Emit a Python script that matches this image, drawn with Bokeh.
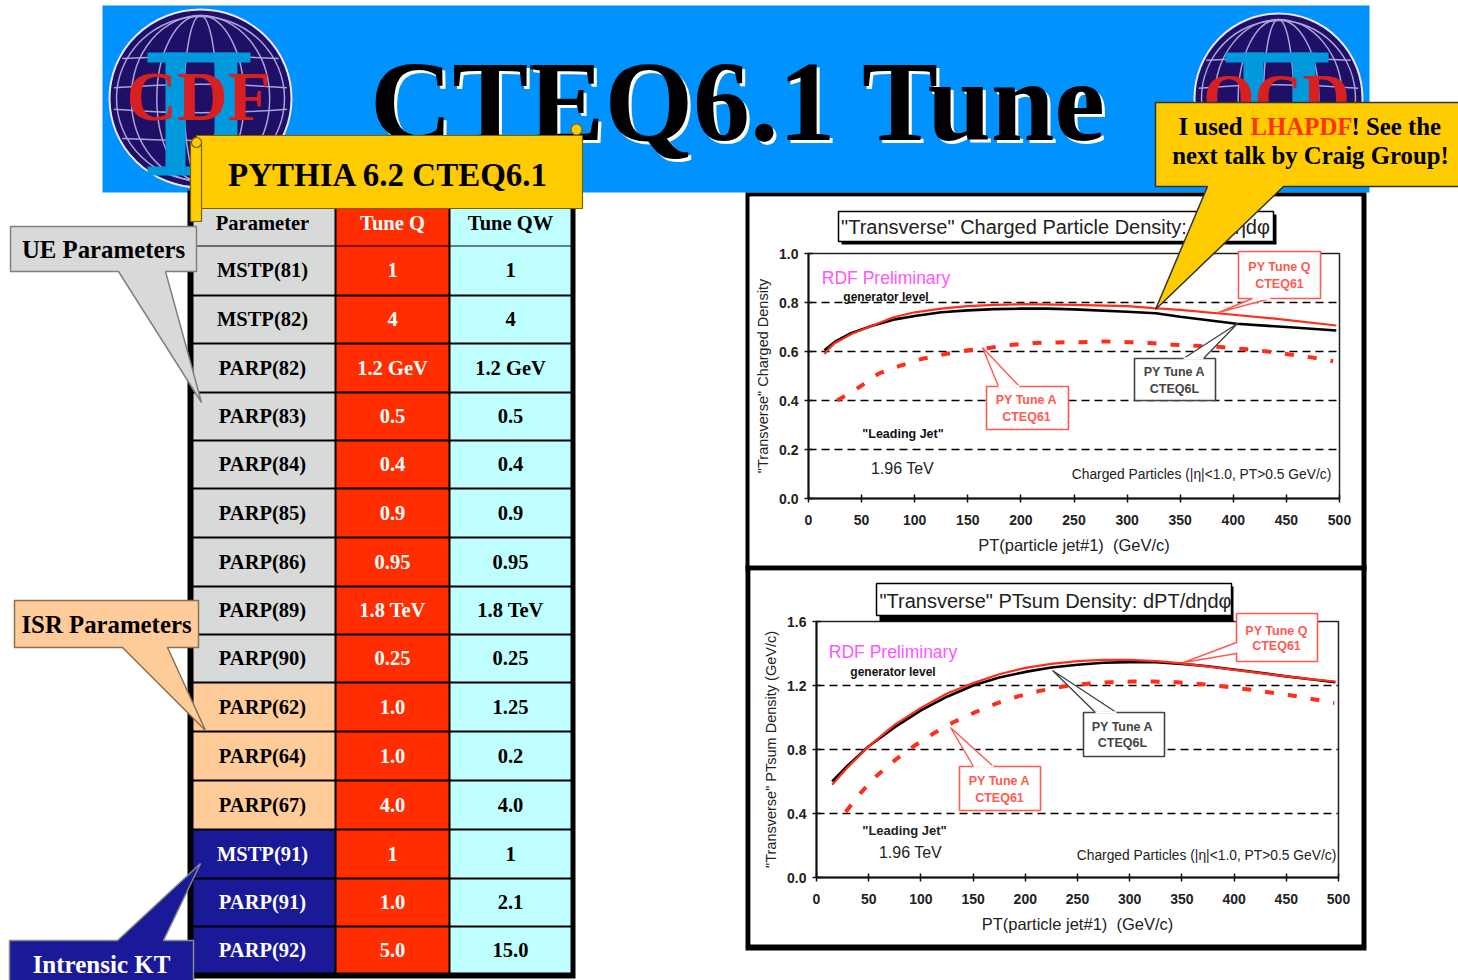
from bokeh.plotting import figure
from bokeh.layouts import column
from bokeh.models import Range1d, FixedTicker, NumeralTickFormatter, ColumnDataSource
from bokeh.core.properties import value
from bokeh.embed import file_html
from bokeh.resources import INLINE

# ---------- table data ----------
parameters = ["MSTP(81)", "MSTP(82)", "PARP(82)", "PARP(83)", "PARP(84)", "PARP(85)", "PARP(86)", "PARP(89)",
              "PARP(90)", "PARP(62)", "PARP(64)", "PARP(67)", "MSTP(91)", "PARP(91)", "PARP(92)"]
tune_q = ["1", "4", "1.2 GeV", "0.5", "0.4", "0.9", "0.95", "1.8 TeV", "0.25", "1.0", "1.0", "4.0", "1", "1.0", "5.0"]
tune_qw = ["1", "4", "1.2 GeV", "0.5", "0.4", "0.9", "0.95", "1.8 TeV", "0.25", "1.25", "0.2", "4.0", "1", "2.1", "15.0"]
row_groups = ["ue"] * 9 + ["isr"] * 3 + ["kt"] * 3
row_edges = [245, 295, 343, 392, 440, 488, 537, 586, 634, 682, 731, 780, 829, 878, 926, 973]

# ---------- upper chart: charged particle density ----------
c1_a6l_x = [15, 25, 40, 60, 80, 100, 125, 150, 175, 200, 225, 250, 300, 327, 350, 403, 450, 497]
c1_a6l_y = [0.605, 0.64, 0.675, 0.705, 0.73, 0.745, 0.76, 0.768, 0.773, 0.775, 0.775, 0.772, 0.762, 0.756, 0.742, 0.713, 0.70, 0.686]
c1_q_x = [15, 20, 25, 40, 60, 80, 100, 125, 150, 175, 200, 250, 300, 325, 350, 400, 437, 497]
c1_q_y = [0.59, 0.615, 0.635, 0.67, 0.705, 0.74, 0.76, 0.775, 0.785, 0.79, 0.793, 0.79, 0.785, 0.777, 0.77, 0.75, 0.735, 0.706]
c1_a61_x = [27, 48, 66, 85, 107, 129, 150, 171, 193, 214, 235, 256, 279, 302, 325, 343, 366, 388, 410, 432, 453, 475, 494]
c1_a61_y = [0.40, 0.455, 0.51, 0.54, 0.57, 0.59, 0.605, 0.615, 0.628, 0.635, 0.637, 0.638, 0.641, 0.638, 0.634, 0.628, 0.623, 0.618, 0.61, 0.60, 0.588, 0.575, 0.56]

# ---------- lower chart: PTsum density ----------
c2_a6l_x = [15, 30, 50, 75, 100, 125, 150, 175, 200, 225, 250, 275, 300, 325, 350, 375, 400, 425, 450, 475, 497]
c2_a6l_y = [0.60, 0.70, 0.82, 0.94, 1.045, 1.13, 1.20, 1.25, 1.285, 1.312, 1.33, 1.342, 1.346, 1.345, 1.335, 1.32, 1.30, 1.28, 1.257, 1.237, 1.22]
c2_q_x = [15, 30, 50, 75, 100, 125, 150, 175, 200, 225, 250, 275, 300, 325, 350, 375, 400, 425, 450, 475, 497]
c2_q_y = [0.58, 0.69, 0.82, 0.955, 1.06, 1.15, 1.215, 1.27, 1.31, 1.335, 1.352, 1.36, 1.36, 1.352, 1.338, 1.318, 1.298, 1.277, 1.257, 1.238, 1.225]
c2_a61_x = [28, 43, 58, 76, 93, 112, 131, 151, 172, 193, 213, 236, 258, 280, 302, 323, 345, 367, 390, 412, 433, 455, 477, 496]
c2_a61_y = [0.41, 0.534, 0.638, 0.738, 0.82, 0.90, 0.97, 1.03, 1.087, 1.132, 1.165, 1.194, 1.21, 1.22, 1.225, 1.225, 1.22, 1.21, 1.194, 1.177, 1.158, 1.138, 1.113, 1.09]

x_ticks = [0, 50, 100, 150, 200, 250, 300, 350, 400, 450, 500]
c1_y_ticks = [0.0, 0.2, 0.4, 0.6, 0.8, 1.0]
c2_y_ticks = [0.0, 0.4, 0.8, 1.2, 1.6]

SERIF = value("Liberation Serif")
SANS = value("Liberation Sans")
W, H = 1458, 980


def sheet(**kw):
    p = figure(width=W, height=H, x_range=Range1d(0, W), y_range=Range1d(H, 0), x_axis_location=None,
               y_axis_location=None, toolbar_location=None, output_backend="svg", min_border=0,
               frame_align=False, **kw)
    p.grid.visible = False
    p.outline_line_color = None
    return p


def label(p, x, y, s, size, color="black", font=SERIF, style="bold", align="center", baseline="middle"):
    p.text(x=[x], y=[y], text=[s], text_font=font, text_font_size=f"{size}px", text_font_style=style,
           text_color=color, text_align=align, text_baseline=baseline)


def logo(p, cx, cy, rx, ry, letters, size):
    p.ellipse(x=[cx], y=[cy], width=[2 * rx], height=[2 * ry], fill_color="#1f0f66", line_color="#e8e6f8", line_width=2)
    p.ellipse(x=[cx], y=[cy], width=[2 * rx - 14], height=[2 * ry - 14], fill_color=None, line_color="#a9a4d8", line_width=1.5)
    for f in (0.18, 0.48, 0.76):
        p.ellipse(x=[cx], y=[cy], width=[2 * rx * f], height=[2 * ry - 12], fill_color=None, line_color="#a9a4d8", line_width=1.5)
    for d, w, bow in ((-0.45, 0.86, -4), (-0.12, 0.95, -7), (0.12, 0.95, 7), (0.45, 0.86, 4)):
        p.quadratic(x0=[cx - rx * w], y0=[cy + ry * d], x1=[cx + rx * w], y1=[cy + ry * d], cx=[cx], cy=[cy + ry * d + bow],
                    line_color="#a9a4d8", line_width=1.5)
    blue = "#0099dd"
    p.quad(left=[cx - 53, cx - 53, cx - 35, cx + 14], right=[cx + 50, cx + 50, cx - 15, cx + 37],
           top=[cy - 46, cy + 68, cy - 46, cy - 46], bottom=[cy - 36, cy + 77, cy + 70, cy + 70],
           fill_color=blue, line_color=None)
    label(p, cx - 2, cy - 2, letters, size, "#d92020")


def poly(p, xs, ys, fill, edge, width=1.2):
    p.patch(x=xs, y=ys, fill_color=fill, line_color=edge, line_width=width)


def callout(p, box, tail, fill, edge, width=1.5):
    l, t, r, b = box
    (ax, tx, ty, bx) = tail
    p.patch(x=[l, r, r, bx, tx, ax, l] if ty > b else [l, ax, tx, bx, r, r, l],
            y=[t, t, b, b, ty, b, b] if ty > b else [t, t, ty, t, t, b, b],
            fill_color=fill, line_color=edge, line_width=width)


# ---------- background sheet ----------
bg = sheet(margin=(0, 0, 0, 0))
bg.quad(left=[102], right=[1369], top=[5], bottom=[192], fill_color="#0092ff", line_color=None)
logo(bg, 200, 98, 91, 89, "CDF", 70)
logo(bg, 1278, 98, 84, 85, "QCD", 66)
TX, TY = 738, 101
label(bg, TX + 3, TY + 3, "CTEQ6.1 Tune", 114, "white", baseline="alphabetic")
label(bg, TX, TY, "CTEQ6.1 Tune", 114, "black", baseline="alphabetic")

bg.quad(left=[187], right=[575], top=[190], bottom=[978], fill_color="black", line_color=None)
group_fill = {"ue": "#d8d9d9", "isr": "#ffcc99", "kt": "#1a1a99"}
bg.quad(left=[193], right=[334], top=[198], bottom=[245], fill_color="#d8d9d9", line_color=None)
bg.quad(left=[336], right=[448], top=[198], bottom=[245], fill_color="#ff2d00", line_color=None)
bg.quad(left=[450], right=[570], top=[198], bottom=[245], fill_color="#bfffff", line_color=None)
tops = [e + 1 for e in row_edges[:-1]]
bots = [e - 1 for e in row_edges[1:]]
n = len(parameters)
bg.quad(left=[193] * n, right=[334] * n, top=tops, bottom=bots, fill_color=[group_fill[g] for g in row_groups], line_color=None)
bg.quad(left=[336] * n, right=[448] * n, top=tops, bottom=bots, fill_color="#ff2d00", line_color=None)
bg.quad(left=[450] * n, right=[570] * n, top=tops, bottom=bots, fill_color="#bfffff", line_color=None)
mids = [(a + b) / 2 - 0.5 for a, b in zip(row_edges[:-1], row_edges[1:])]
table = ColumnDataSource(dict(mid=mids, p=parameters, q=tune_q, w=tune_qw,
                              pc=["white" if g == "kt" else "black" for g in row_groups]))
common = dict(text_font=SERIF, text_font_size="20.5px", text_font_style="bold", text_align="center", text_baseline="middle")
bg.text(x=262, y="mid", text="p", text_color="pc", source=table, **common)
bg.text(x=392, y="mid", text="q", text_color="white", source=table, **common)
bg.text(x=510, y="mid", text="w", text_color="black", source=table, **common)
label(bg, 262, 222, "Parameter", 20.5)
label(bg, 392, 222, "Tune Q", 20.5, "white")
label(bg, 510, 222, "Tune QW", 20.5)

# chart panels
bg.quad(left=[745, 745], right=[1366, 1366], top=[192, 565], bottom=[570, 950], fill_color="black", line_color=None)
bg.quad(left=[749, 750], right=[1361, 1361], top=[196, 570], bottom=[565, 944], fill_color="white", line_color=None)


# ---------- charts ----------
def chart(y_end, yticks, grid_ticks, ylabel, fw, fh, ml, mr, mt, mb, margin, xs, label_size):
    p = figure(frame_width=fw, frame_height=fh, x_range=Range1d(0, 500), y_range=Range1d(0, y_end),
               toolbar_location=None, output_backend="svg", min_border_left=ml, min_border_right=mr,
               min_border_top=mt, min_border_bottom=mb, margin=margin, frame_align=False,
               x_axis_label="PT(particle jet#1)\u00a0\u00a0(GeV/c)", y_axis_label=ylabel)
    p.outline_line_color = "#222222"
    p.outline_line_width = 1.5
    p.xgrid.visible = False
    p.ygrid.ticker = FixedTicker(ticks=grid_ticks)
    p.ygrid.grid_line_color = "black"
    p.ygrid.grid_line_width = 1.5
    p.ygrid.grid_line_dash = "8 5"
    p.xaxis.ticker = FixedTicker(ticks=x_ticks)
    p.yaxis.ticker = FixedTicker(ticks=yticks)
    p.yaxis.formatter = NumeralTickFormatter(format="0.0")
    for ax in (p.xaxis[0], p.yaxis[0]):
        ax.axis_line_color = "#111111"
        ax.axis_line_width = 2
        ax.major_tick_line_color = "#111111"
        ax.major_tick_line_width = 1.5
        ax.major_tick_in = 4
        ax.major_tick_out = 4
        ax.minor_tick_line_color = None
        ax.major_label_text_font = "Liberation Sans"
        ax.major_label_text_font_size = "14px"
        ax.major_label_text_font_style = "bold"
        ax.major_label_text_color = "#222222"
        ax.axis_label_text_font = "Liberation Sans"
        ax.axis_label_text_font_style = "normal"
        ax.axis_label_text_color = "#222222"
    p.xaxis.major_label_standoff = 12
    p.xaxis.axis_label_text_font_size = "16.5px"
    p.xaxis.axis_label_standoff = 8
    p.yaxis.major_label_standoff = 6
    p.yaxis.axis_label_text_font_size = f"{label_size}px"
    p.yaxis.axis_label_standoff = 5
    (ax_x, ax_y, q_x, q_y, a_x, a_y) = xs
    p.line(ax_x, ax_y, line_color="black", line_width=2.6)
    p.line(q_x, q_y, line_color="#ff2d1a", line_width=2.2)
    p.line(a_x, a_y, line_color="#ff2d1a", line_width=4, line_dash="9 14")
    return p


c1 = chart(1.0, c1_y_ticks, [0.2, 0.4, 0.6, 0.8], '"Transverse" Charged Density', 531, 245, 58, 22, 57, 67,
           (196 - 980, 0, 0, 750), (c1_a6l_x, c1_a6l_y, c1_q_x, c1_q_y, c1_a61_x, c1_a61_y), 14.5)
c2 = chart(1.6, c2_y_ticks, [0.4, 0.8, 1.2], '"Transverse" PTsum Density (GeV/c)', 522, 256, 66, 23, 51, 67,
           (5, 0, 0, 750), (c2_a6l_x, c2_a6l_y, c2_q_x, c2_q_y, c2_a61_x, c2_a61_y), 14.5)

# ---------- overlay ----------
ov = sheet(margin=(-944, 0, 0, 0), background_fill_color=None, border_fill_color=None)


def tag(box, tip, base, color, lines, cx, ys):
    l, t, r, b = box
    ov.quad(left=[l], right=[r], top=[t], bottom=[b], fill_color="white", line_color=color, line_width=1.6)
    (b0x, b0y), (b1x, b1y) = base
    poly(ov, [b0x, tip[0], b1x], [b0y, tip[1], b1y], "white", color, 1.4)
    ov.segment(x0=[b0x], y0=[b0y], x1=[b1x], y1=[b1y], line_color="white", line_width=2.5)
    for s, y in zip(lines, ys):
        label(ov, cx, y, s, 12.5, color, font=SANS)


RED_TAG, BLACK_TAG = "#ff5a50", "#444444"
# upper chart labels
ov.quad(left=[841], right=[1276], top=[214], bottom=[244], fill_color="black", line_color=None)
ov.quad(left=[838], right=[1273], top=[211], bottom=[241], fill_color="white", line_color="black", line_width=1.5)
label(ov, 1055, 226, '"Transverse" Charged Particle Density: dN/dηdφ', 20, "#222222", font=SANS, style="normal")
label(ov, 885.5, 277, "RDF Preliminary", 17.5, "#ff55ff", font=SANS, style="normal")
label(ov, 885.5, 296, "generator level", 12, "#111111", font=SANS)
label(ov, 902.5, 433, '"Leading Jet"', 12.5, "#111111", font=SANS)
label(ov, 902, 468, "1.96 TeV", 16, "#222222", font=SANS, style="normal")
label(ov, 1201, 474, "Charged Particles (|η|<1.0, PT>0.5 GeV/c)", 13.8, "#222222", font=SANS, style="normal")
tag((1238, 251, 1320, 298), (1218, 312), ((1252, 298), (1270, 298)), RED_TAG, ["PY Tune Q", "CTEQ61"], 1279, (266, 283))
tag((986, 386, 1068, 429), (982, 347), ((998, 386), (1019, 386)), RED_TAG, ["PY Tune A", "CTEQ61"], 1026, (399, 416))
tag((1134, 358, 1215, 400), (1237, 323), ((1183, 358), (1203, 358)), BLACK_TAG, ["PY Tune A", "CTEQ6L"], 1174, (371, 388))

# lower chart labels
ov.quad(left=[879], right=[1233], top=[586], bottom=[621], fill_color="black", line_color=None)
ov.quad(left=[876], right=[1231], top=[583], bottom=[615], fill_color="white", line_color="black", line_width=1.5)
label(ov, 1055, 600, '"Transverse" PTsum Density: dPT/dηdφ', 20, "#222222", font=SANS, style="normal")
label(ov, 892.5, 651, "RDF Preliminary", 17.5, "#ff55ff", font=SANS, style="normal")
label(ov, 892.5, 671, "generator level", 12, "#111111", font=SANS)
label(ov, 904, 830, '"Leading Jet"', 13, "#222222", font=SANS)
label(ov, 910, 852, "1.96 TeV", 16, "#222222", font=SANS, style="normal")
label(ov, 1206, 855, "Charged Particles (|η|<1.0, PT>0.5 GeV/c)", 13.8, "#222222", font=SANS, style="normal")
ov.quad(left=[1236], right=[1317], top=[613], bottom=[661], fill_color="white", line_color=RED_TAG, line_width=1.6)
poly(ov, [1236, 1183, 1236], [642, 662, 653], "white", RED_TAG, 1.4)
ov.segment(x0=[1236], y0=[643], x1=[1236], y1=[652], line_color="white", line_width=2.5)
label(ov, 1276, 630, "PY Tune Q", 12.5, RED_TAG, font=SANS)
label(ov, 1276, 645, "CTEQ61", 12.5, RED_TAG, font=SANS)
tag((959, 766, 1040, 810), (950, 727), ((973, 766), (993, 766)), RED_TAG, ["PY Tune A", "CTEQ61"], 999, (780, 797))
tag((1083, 712, 1164, 756), (1052, 670), ((1095, 712), (1116, 712)), BLACK_TAG, ["PY Tune A", "CTEQ6L"], 1122, (726, 742))

# scroll
GOLD, GOLD_EDGE = "#ffcc00", "#7a6200"
ov.ellipse(x=[576], y=[129], width=[11], height=[11], fill_color=GOLD, line_color=GOLD_EDGE, line_width=1.2)
ov.quad(left=[196], right=[582], top=[135], bottom=[208], fill_color=GOLD, line_color=GOLD_EDGE, line_width=1.2)
ov.quad(left=[190], right=[201], top=[141], bottom=[221], fill_color=GOLD, line_color=GOLD_EDGE, line_width=1.2)
ov.ellipse(x=[196], y=[142], width=[10], height=[10], fill_color=GOLD, line_color=GOLD_EDGE, line_width=1.2)
label(ov, 388, 174, "PYTHIA 6.2 CTEQ6.1", 33)

# left call-outs
callout(ov, (10, 226, 196, 271), (118, 201, 402, 165), "#d8d9d9", "#808080")
label(ov, 103, 249, "UE Parameters", 24.8)
callout(ov, (14, 600, 198, 647), (122, 205, 730, 167), "#ffcc99", "#8a7050")
label(ov, 106, 624, "ISR Parameters", 24.8)
callout(ov, (9, 940, 193, 985), (117, 200, 863, 163), "#1a1a99", "#888888")
label(ov, 101, 964, "Intrensic KT", 25, "white")

# yellow call-out
callout(ov, (1155, 102, 1460, 186), (1207, 1155, 309, 1283), GOLD, "#333333")
label(ov, 1178, 126, "I used", 24.8, align="left")
label(ov, 1250, 126, "LHAPDF", 24.8, "#ff3300", align="left")
label(ov, 1351, 126, "! See the", 24.8, align="left")
label(ov, 1310, 155, "next talk by Craig Group!", 24.8)

page = column(bg, c1, c2, ov, margin=0)
open("out.html", "w").write(file_html(page, INLINE))
